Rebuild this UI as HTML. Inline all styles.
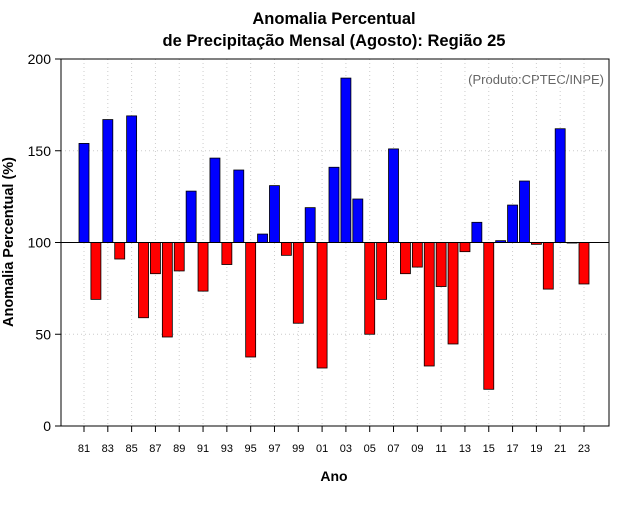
<!DOCTYPE html>
<html><head><meta charset="utf-8"><style>
body{margin:0;background:#fff;}
svg text{font-family:"Liberation Sans",sans-serif;}
</style></head><body>
<svg id="chart" width="640" height="500" xmlns="http://www.w3.org/2000/svg">
<text x="334" y="24" font-size="16.5" font-weight="bold" text-anchor="middle">Anomalia Percentual</text>
<text x="334" y="46" font-size="16.5" font-weight="bold" text-anchor="middle">de Precipitação Mensal (Agosto): Região 25</text>
<text x="604" y="84" font-size="13" fill="#666" text-anchor="end">(Produto:CPTEC/INPE)</text>
<text x="334" y="481" font-size="14" font-weight="bold" text-anchor="middle">Ano</text>
<text transform="translate(13,242) rotate(-90)" font-size="14.5" font-weight="bold" text-anchor="middle">Anomalia Percentual (%)</text>
<g id="grid"></g><g id="bars"></g><g id="axes"></g>
</svg>
<script>
const years=[1981,1982,1983,1984,1985,1986,1987,1988,1989,1990,1991,1992,1993,1994,1995,1996,1997,1998,1999,2000,2001,2002,2003,2004,2005,2006,2007,2008,2009,2010,2011,2012,2013,2014,2015,2016,2017,2018,2019,2020,2021,2022,2023];
const values=[154,69,167,91,169,59,83,48.5,84.5,128,73.5,146,88,139.5,37.6,104.6,131,93,56,119,31.6,141,189.6,123.7,50,69,151,83,86.6,32.7,76,44.7,95,111,20,101,120.4,133.5,99,74.6,162,99.7,77.4];
const yTicks=[0,50,100,150,200];
const xTickYears=[1981,1983,1985,1987,1989,1991,1993,1995,1997,1999,2001,2003,2005,2007,2009,2011,2013,2015,2017,2019,2021,2023];
const baseline=100;
const NS="http://www.w3.org/2000/svg";
const L=61,R=609,T=59,B=426;
const y=v=>B-(v/200)*(B-T);
const x=yr=>84+(yr-1981)*(500/42);
function mk(tag,attrs,parent){const e=document.createElementNS(NS,tag);for(const k in attrs)e.setAttribute(k,attrs[k]);parent.appendChild(e);return e;}
const grid=document.getElementById('grid'),bars=document.getElementById('bars'),axes=document.getElementById('axes');
yTicks.forEach(t=>{const g=mk('line',{x1:L,x2:R,y1:y(t),y2:y(t),stroke:'#ccc','stroke-dasharray':'1,3'},grid);

});
xTickYears.forEach(yr=>{const g=mk('line',{x1:x(yr),x2:x(yr),y1:T,y2:B,stroke:'#ccc','stroke-dasharray':'1,3'},grid);

});
years.forEach((yr,i)=>{const v=values[i];const top=Math.min(y(v),y(baseline)),h=Math.abs(y(v)-y(baseline));
const r=mk('rect',{x:x(yr)-5,y:top,width:10,height:Math.max(h,0.5),fill:v>=baseline?'#0000ff':'#ff0000',stroke:'#000','stroke-width':0.8},bars);

});
const bl=mk('line',{x1:L,x2:R,y1:y(baseline),y2:y(baseline),stroke:'#000','stroke-width':1},axes);


const fr=mk('rect',{x:L,y:T,width:R-L,height:B-T,fill:'none',stroke:'#000','stroke-width':1},axes);


yTicks.forEach(t=>{mk('line',{x1:L-6,x2:L,y1:y(t),y2:y(t),stroke:'#000'},axes);
const tx=mk('text',{x:L-10,y:y(t)+5,'font-size':14,'text-anchor':'end'},axes);tx.textContent=t;

});
xTickYears.forEach(yr=>{mk('line',{x1:x(yr),x2:x(yr),y1:B,y2:B+6,stroke:'#000'},axes);
const tx=mk('text',{x:x(yr),y:B+26,'font-size':11,'text-anchor':'middle'},axes);tx.textContent=String(yr%100).padStart(2,'0');

});
</script>
</body></html>
